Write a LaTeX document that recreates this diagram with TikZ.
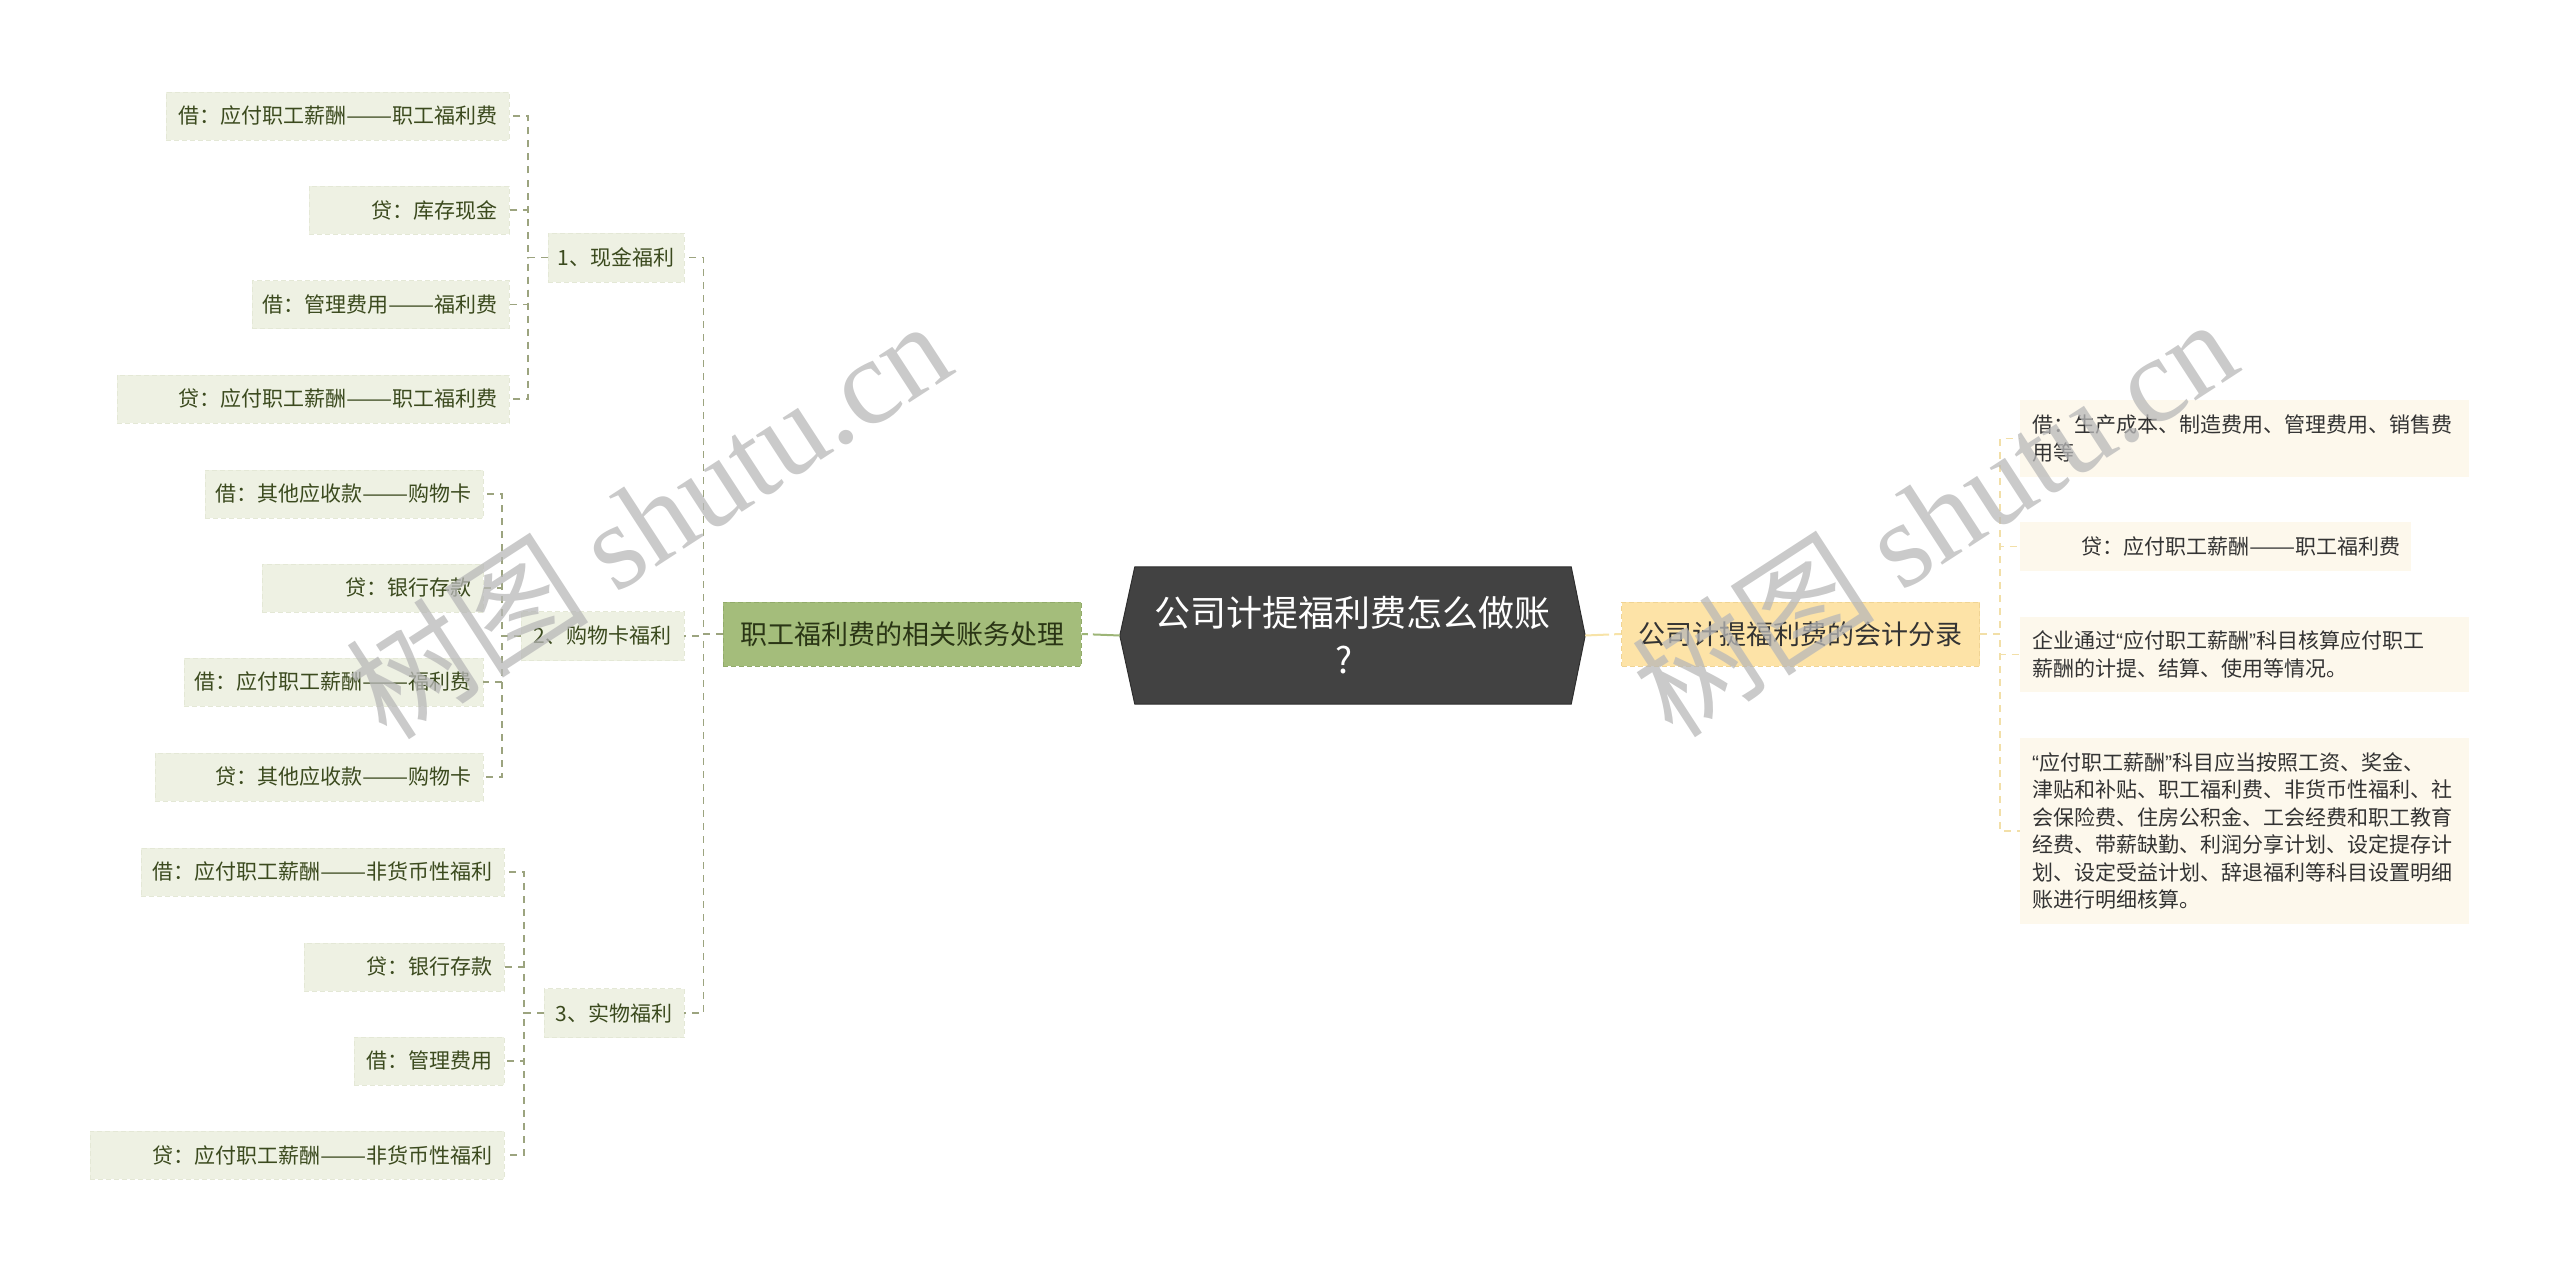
\documentclass[tikz,border=0pt]{standalone}
\usepackage{fontspec}
\usepackage{graphicx}
\setmainfont{Noto Sans CJK SC}
\newfontfamily\wmserif{Liberation Serif}
\newfontfamily\qfont{Liberation Sans}
\usetikzlibrary{backgrounds}
\definecolor{rootfill}{HTML}{424242}
\definecolor{rootdraw}{HTML}{2E2E2E}
\definecolor{gmainfill}{HTML}{A4BD7B}
\definecolor{gmaindraw}{HTML}{92AB6A}
\definecolor{ymainfill}{HTML}{FDE3A7}
\definecolor{ymaindraw}{HTML}{F0D493}
\definecolor{cLeafL}{HTML}{EEF1E3}
\definecolor{cLeafLd}{HTML}{E4E8D6}
\definecolor{cLeafR}{HTML}{FDF8EC}
\definecolor{cTxtL}{HTML}{3B4A1E}
\definecolor{cTxtR}{HTML}{333333}
\definecolor{cTxtG}{HTML}{2A3515}
\definecolor{cConL}{HTML}{9CA47F}
\definecolor{cConR}{HTML}{F2DFA8}
\definecolor{cLineG}{HTML}{9DB577}
\definecolor{cLineY}{HTML}{F7E3A8}
\definecolor{cWm}{HTML}{B8B8B8}
\newcommand{\rbox}[2]{\makebox[#1pt][r]{#2}}
\newcommand{\dd}{\resizebox{2.2em}{\height}{——}}
\newcommand{\myLq}{{\qfont “}}
\newcommand{\myRq}{{\qfont ”}}
\tikzset{
  rootnode/.style={minimum width=465pt, minimum height=137pt, inner sep=0pt,
    text=white, font=\fontsize{36}{47}\selectfont, align=center},
  mainnode/.style={minimum width=358pt, minimum height=64pt, inner sep=0pt,
    font=\fontsize{27}{32}\selectfont, dashed, dash pattern=on 5pt off 3pt, line width=1pt},
  leafLs/.style={fill=cLeafL, draw=cLeafLd, dash pattern=on 5pt off 3pt, inner xsep=11pt, inner ysep=0pt,
    minimum height=48pt, anchor=east, text=cTxtL, font=\fontsize{21}{24}\selectfont},
  lvtwo/.style={fill=cLeafL, draw=cLeafLd, dash pattern=on 5pt off 3pt, inner sep=0pt,
    minimum height=49pt, text=cTxtL, font=\fontsize{21}{24}\selectfont},
  leafRs/.style={fill=cLeafR, inner xsep=12pt, inner ysep=0pt, anchor=west,
    text=cTxtR, font=\fontsize{21}{27.5}\selectfont, align=left},
  conL/.style={draw=cConL, line width=1.5pt, dash pattern=on 7pt off 6pt},
  conR/.style={draw=cConR, line width=1.5pt, dash pattern=on 7pt off 6pt},
  wm/.style={text=cWm, opacity=0.75, inner sep=0pt, font=\fontsize{122}{122}\selectfont}
}
\begin{document}
\begin{tikzpicture}[x=1pt, y=-1pt]
\useasboundingbox (0,0) rectangle (2560,1271);

% root
\node[rootnode] (root) at (1352.5,635.5) {公司计提福利费怎么做账\\?\hspace*{16pt}};
\begin{scope}[on background layer]
\filldraw[fill=rootfill, draw=rootdraw, line width=1pt]
  ([xshift=15pt]root.north west) -- ([xshift=-14pt]root.north east) -- (root.east)
  -- ([xshift=-14pt]root.south east) -- ([xshift=15pt]root.south west) -- (root.west) -- cycle;
\end{scope}

% main branches
\node[mainnode, fill=gmainfill, draw=gmaindraw, text=cTxtG] (gmain) at (902,634) {职工福利费的相关账务处理};
\node[mainnode, fill=ymainfill, draw=ymaindraw, text=cTxtR] (ymain) at (1800.5,634) {公司计提福利费的会计分录};

\draw[draw=cLineG, line width=2pt, dash pattern=on 27pt off 5pt on 7pt off 100pt] (root.west) -- (gmain.east);
\draw[draw=cLineY, line width=2pt, dash pattern=on 24pt off 5pt on 7pt off 100pt] (root.east) -- (ymain.west);

% level 2
\node[lvtwo, minimum width=136pt] (n1) at (616,257.5) {1、现金福利};
\node[lvtwo, minimum width=163pt] (n2) at (602.5,636) {2、购物卡福利};
\node[lvtwo, minimum width=140pt] (n3) at (614,1013) {3、实物福利};

% group 1
\node[leafLs] (a1) at (509,116) {\rbox{321}{借：应付职工薪酬\dd 职工福利费}};
\node[leafLs] (a2) at (509,210) {\rbox{178}{贷：库存现金}};
\node[leafLs] (a3) at (509,304.5) {\rbox{235}{借：管理费用\dd 福利费}};
\node[leafLs] (a4) at (509,399) {\rbox{370}{贷：应付职工薪酬\dd 职工福利费}};

% group 2
\node[leafLs] (b1) at (483,494) {\rbox{256}{借：其他应收款\dd 购物卡}};
\node[leafLs] (b2) at (483,588) {\rbox{199}{贷：银行存款}};
\node[leafLs] (b3) at (483,682) {\rbox{277}{借：应付职工薪酬\dd 福利费}};
\node[leafLs] (b4) at (483,777) {\rbox{306}{贷：其他应收款\dd 购物卡}};

% group 3
\node[leafLs] (c1) at (504,872) {\rbox{341}{借：应付职工薪酬\dd 非货币性福利}};
\node[leafLs] (c2) at (504,967) {\rbox{178}{贷：银行存款}};
\node[leafLs] (c3) at (504,1061) {\rbox{128}{借：管理费用}};
\node[leafLs] (c4) at (504,1155) {\rbox{392}{贷：应付职工薪酬\dd 非货币性福利}};

% left connectors
\foreach \n in {n1,n2,n3} \draw[conL] (gmain.west) -- ++(-19pt,0) |- (\n.east);
\foreach \l in {a1,a2,a3,a4} \draw[conL] (n1.west) -- ++(-20pt,0) |- (\l.east);
\foreach \l in {b1,b2,b3,b4} \draw[conL] (n2.west) -- ++(-19pt,0) |- (\l.east);
\foreach \l in {c1,c2,c3,c4} \draw[conL] (n3.west) -- ++(-20pt,0) |- (\l.east);

% right leaves
\node[leafRs, text width=425pt, minimum height=77pt] (r1) at (2020,438.5)
  {借：生产成本、制造费用、管理费用、销售费\\用等};
\node[leafRs, inner xsep=11pt, minimum height=49pt] (r2) at (2020,546.5)
  {\rbox{369}{贷：应付职工薪酬\dd 职工福利费}};
\node[leafRs, text width=425pt, minimum height=75pt] (r3) at (2020,654.5)
  {企业通过\myLq 应付职工薪酬\myRq 科目核算应付职工\\薪酬的计提、结算、使用等情况。};
\node[leafRs, text width=425pt, minimum height=186pt] (r4) at (2020,831)
  {\myLq 应付职工薪酬\myRq 科目应当按照工资、奖金、\\津贴和补贴、职工福利费、非货币性福利、社\\会保险费、住房公积金、工会经费和职工教育\\经费、带薪缺勤、利润分享计划、设定提存计\\划、设定受益计划、辞退福利等科目设置明细\\账进行明细核算。};

\foreach \r in {r1,r2,r3,r4} \draw[conR] (ymain.east) -- ++(20pt,0) |- (\r.west);

% watermarks
\node[wm, rotate=33] (wm1) at (648,518) {树图 {\wmserif shutu.cn}};
\node[wm, rotate=33] (wm2) at (1934,516) {树图 {\wmserif shutu.cn}};
\end{tikzpicture}
\end{document}
